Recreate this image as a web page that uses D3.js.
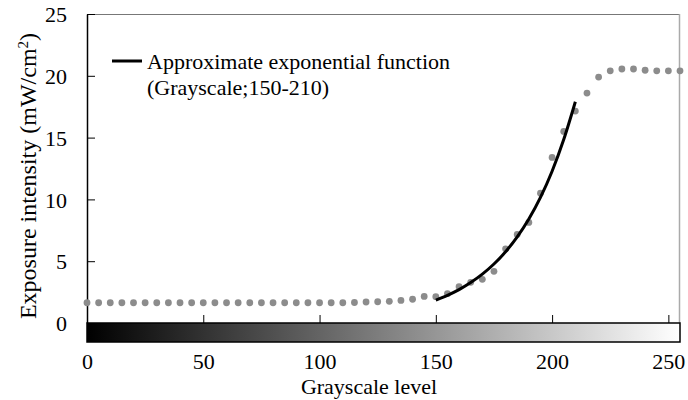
<!DOCTYPE html>
<html>
<head>
<meta charset="utf-8">
<script src="https://cdn.jsdelivr.net/npm/d3@7"></script>
</head>
<body style="margin:0">
<script>
// measured points (grayscale level -> exposure intensity)
const grayLevels = [0, 5, 10, 15, 20, 25, 30, 35, 40, 45, 50, 55, 60, 65, 70, 75, 80, 85, 90, 95,
                    100, 105, 110, 115, 120, 125, 130, 135, 140, 145, 150, 155, 160, 165, 170, 175,
                    180, 185, 190, 195, 200, 205, 210, 215, 220, 225, 230, 235, 240, 245, 250, 255];
const intensity = [1.64, 1.64, 1.64, 1.64, 1.64, 1.64, 1.64, 1.64, 1.64, 1.64, 1.64, 1.64, 1.64, 1.64,
                   1.64, 1.64, 1.64, 1.64, 1.64, 1.64, 1.64, 1.64, 1.64, 1.66, 1.7, 1.72, 1.75, 1.83,
                   1.92, 2.15, 2.13, 2.37, 2.94, 3.29, 3.53, 4.18, 6.0, 7.17, 8.14, 10.5, 13.4, 15.5,
                   17.15, 18.6, 19.9, 20.4, 20.55, 20.55, 20.45, 20.4, 20.4, 20.4];

// approximate exponential curve
const fitLevels = [150, 155, 160, 165, 170, 175, 180, 185, 190, 195, 200, 205, 210];
const fitValues = [1.85, 2.24, 2.7, 3.27, 3.95, 4.77, 5.76, 6.96, 8.41, 10.16, 12.28, 14.84, 17.9];

const xTicks = [0, 50, 100, 150, 200, 250];
const yTicks = [0, 5, 10, 15, 20, 25];
const legendLines = ["Approximate exponential function", "(Grayscale;150-210)"];

const w = 688, h = 400;
const m = { left: 87, right: 680, top: 14, bottom: 323 };
const serif = "Liberation Serif";

const svg = d3.select("body").append("svg")
  .attr("width", w)
  .attr("height", h);

const x = d3.scaleLinear().domain([0, 255]).range([m.left, m.right]);
const y = d3.scaleLinear().domain([0, 25]).range([m.bottom, m.top]);

// frame: top and right borders are grey
svg.append("line")
  .attr("x1", m.left).attr("x2", m.right).attr("y1", m.top + 0.5).attr("y2", m.top + 0.5)
  .attr("stroke", "#777").attr("stroke-width", 1);
svg.append("line")
  .attr("x1", m.right - 0.5).attr("x2", m.right - 0.5).attr("y1", m.top).attr("y2", m.bottom)
  .attr("stroke", "#aaa").attr("stroke-width", 1.5);

// grayscale bar under the x axis
const grad = svg.append("defs").append("linearGradient")
  .attr("id", "gray").attr("x1", "0%").attr("x2", "100%");
grad.append("stop").attr("offset", "0%").attr("stop-color", "#000");
grad.append("stop").attr("offset", "100%").attr("stop-color", "#fff");

svg.append("rect")
  .attr("x", x(0)).attr("y", m.bottom)
  .attr("width", x(255) - x(0)).attr("height", 19)
  .attr("fill", "url(#gray)")
  .attr("stroke", "#000").attr("stroke-width", 1.5);

// y axis
const yAxis = svg.append("g")
  .attr("transform", `translate(${m.left},0)`)
  .call(d3.axisLeft(y).tickValues(yTicks).tickSizeInner(-8).tickSizeOuter(0).tickPadding(20));
yAxis.select(".domain").attr("stroke", "#000").attr("stroke-width", 1.5);
yAxis.selectAll(".tick line").attr("stroke", "#000");
yAxis.selectAll(".tick text")
  .attr("font-family", serif)
  .attr("font-size", 22)
  .attr("fill", "#000")
  .attr("dy", "0.35em");

// x axis
const xAxis = svg.append("g")
  .attr("transform", `translate(0,${m.bottom})`)
  .call(d3.axisBottom(x).tickValues(xTicks).tickSizeInner(-8).tickSizeOuter(0).tickPadding(30));
xAxis.select(".domain").remove();
xAxis.selectAll(".tick line").attr("stroke", "#000");
xAxis.selectAll(".tick text")
  .attr("font-family", serif)
  .attr("font-size", 22)
  .attr("fill", "#000");

// measured dots
svg.append("g")
  .selectAll("circle")
  .data(grayLevels)
  .enter()
  .append("circle")
  .attr("cx", d => x(d))
  .attr("cy", (d, i) => y(intensity[i]))
  .attr("r", 3.4)
  .attr("fill", "#8c8c8c");

// fitted curve
const line = d3.line()
  .x(d => x(d))
  .y((d, i) => y(fitValues[i]))
  .curve(d3.curveMonotoneX);

svg.append("path")
  .datum(fitLevels)
  .attr("d", line)
  .attr("fill", "none")
  .attr("stroke", "#000")
  .attr("stroke-width", 3);

// legend
svg.append("line")
  .attr("x1", 112).attr("x2", 142).attr("y1", 61).attr("y2", 61)
  .attr("stroke", "#000").attr("stroke-width", 3);
svg.selectAll(".legend")
  .data(legendLines)
  .enter()
  .append("text")
  .attr("class", "legend")
  .attr("x", 147)
  .attr("y", (d, i) => 69 + i * 26)
  .attr("font-family", serif)
  .attr("font-size", 22)
  .text(d => d);

// axis titles
svg.append("text")
  .attr("x", 369).attr("y", 394)
  .attr("text-anchor", "middle")
  .attr("font-family", serif)
  .attr("font-size", 22)
  .text("Grayscale level");

const yTitle = svg.append("text")
  .attr("transform", "translate(36,176) rotate(-90)")
  .attr("text-anchor", "middle")
  .attr("font-family", serif)
  .attr("font-size", 24);
yTitle.append("tspan").text("Exposure intensity (mW/cm");
yTitle.append("tspan").attr("baseline-shift", "super").attr("font-size", 15).text("2");
yTitle.append("tspan").text(")");
</script>
</body>
</html>
